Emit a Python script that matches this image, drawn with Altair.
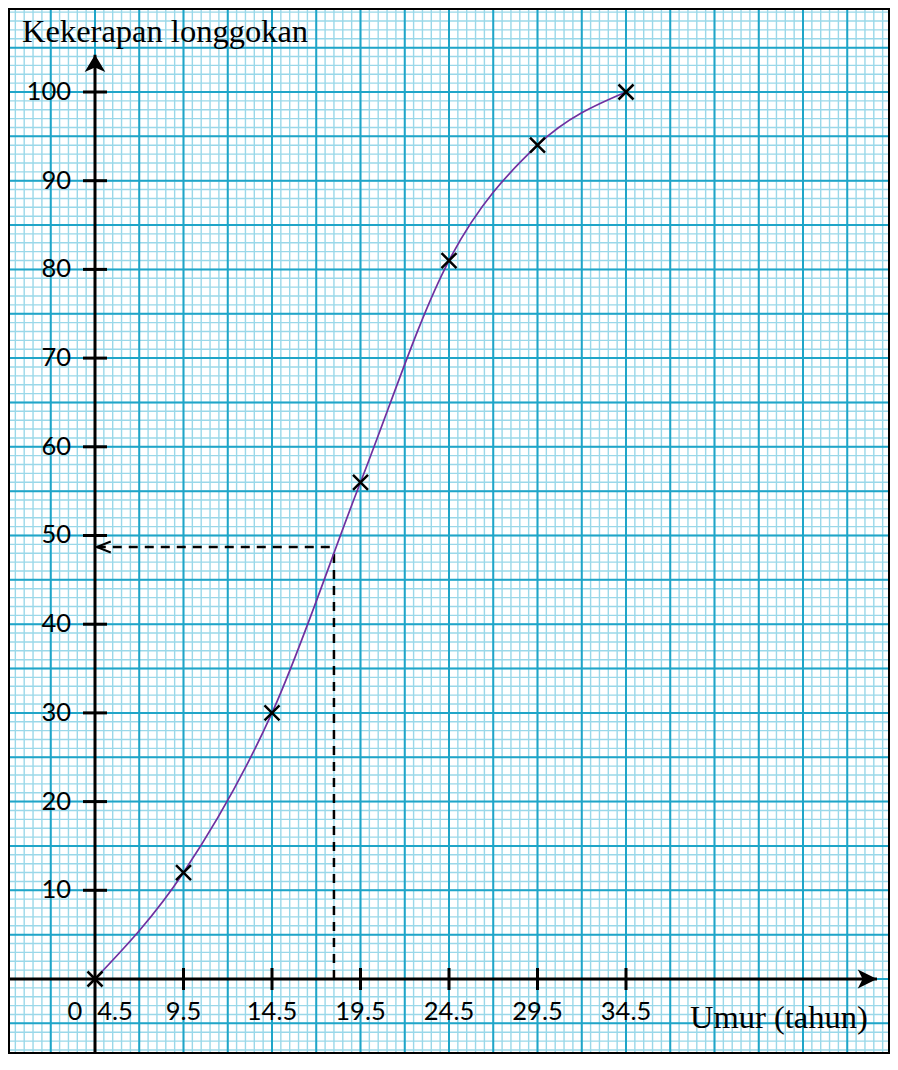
import altair as alt
import numpy as np
import pandas as pd

# ---- data ----
ages = [4.5, 9.5, 14.5, 19.5, 24.5, 29.5, 34.5]
cum_freq = [0, 12, 30, 56, 81, 94, 100]
x_tick_vals = [9.5, 14.5, 19.5, 24.5, 29.5, 34.5]
x_tick_labels = ["9.5", "14.5", "19.5", "24.5", "29.5", "34.5"]
y_tick_vals = [10, 20, 30, 40, 50, 60, 70, 80, 90, 100]
y_tick_labels = ["10", "20", "30", "40", "50", "60", "70", "80", "90", "100"]
origin_x = 4.5
median_age = 18.0
median_cf = 48.7
x_title = "Umur (tahun)"
y_title = "Kekerapan longgokan"

# ---- layout ----
W, H = 882, 1046
X0, X1 = -0.415, 49.415
Y0, Y1 = -8.456, 109.47
x_arrow_tip = 48.68
y_arrow_tip = 104.2

xs = alt.Scale(domain=[X0, X1], nice=False, zero=False)
ys = alt.Scale(domain=[Y0, Y1], nice=False, zero=False)

minor_x = list(np.arange(-0.5, 50.0, 0.5))
major_x = list(np.arange(-0.5, 50.0, 2.5))
minor_y = list(np.arange(-9, 110, 1))
major_y = list(np.arange(-5, 110, 5))

MINOR = "#9ad8e9"
MAJOR = "#1fa5c8"
FONT = "Lato"
SERIF = "Liberation Serif"


def vrules(vals, color, w):
    return alt.Chart(pd.DataFrame({"x": vals})).mark_rule(
        color=color, strokeWidth=w, clip=True
    ).encode(x=alt.X("x:Q", scale=xs, axis=None))


def hrules(vals, color, w):
    return alt.Chart(pd.DataFrame({"y": vals})).mark_rule(
        color=color, strokeWidth=w, clip=True
    ).encode(y=alt.Y("y:Q", scale=ys, axis=None))


grid = [
    vrules(minor_x, MINOR, 1.4),
    hrules(minor_y, MINOR, 1.4),
    vrules(major_x, MAJOR, 2),
    hrules(major_y, MAJOR, 2),
]

# outer frame (drawn on top of the grid)
frame_v = alt.Chart(pd.DataFrame({"x": [X0, X1]})).mark_rule(color="black", strokeWidth=4).encode(
    x=alt.X("x:Q", scale=xs, axis=None)
)
frame_h = alt.Chart(pd.DataFrame({"y": [Y0, Y1]})).mark_rule(color="black", strokeWidth=4).encode(
    y=alt.Y("y:Q", scale=ys, axis=None)
)

# axes lines
xaxis = alt.Chart(pd.DataFrame({"x": [X0], "x2": [x_arrow_tip], "y": [0]})).mark_rule(
    color="black", strokeWidth=3
).encode(x=alt.X("x:Q", scale=xs, axis=None), x2="x2:Q", y=alt.Y("y:Q", scale=ys, axis=None))

yaxis = alt.Chart(pd.DataFrame({"x": [origin_x], "y": [Y0], "y2": [y_arrow_tip]})).mark_rule(
    color="black", strokeWidth=3
).encode(x=alt.X("x:Q", scale=xs, axis=None), y=alt.Y("y:Q", scale=ys, axis=None), y2="y2:Q")

up_arrow = alt.Chart(pd.DataFrame({"x": [origin_x], "y": [y_arrow_tip]})).mark_point(
    shape="M0,0 L0.9,1.5 L0,1.1 L-0.9,1.5 Z", size=529, filled=True, color="black", opacity=1
).encode(x=alt.X("x:Q", scale=xs, axis=None), y=alt.Y("y:Q", scale=ys, axis=None))

right_arrow = alt.Chart(pd.DataFrame({"x": [x_arrow_tip], "y": [0]})).mark_point(
    shape="M0,0 L-1.6,-0.8 L-1.2,0 L-1.6,0.8 Z", size=576, filled=True, color="black", opacity=1
).encode(x=alt.X("x:Q", scale=xs, axis=None), y=alt.Y("y:Q", scale=ys, axis=None))

# ticks
yt = pd.DataFrame({"x": [origin_x] * len(y_tick_vals), "y": y_tick_vals, "label": y_tick_labels})
xt = pd.DataFrame({"x": x_tick_vals, "y": [0] * len(x_tick_vals), "label": x_tick_labels})

yticks = alt.Chart(yt).mark_tick(orient="horizontal", size=24, thickness=3, color="black", opacity=1).encode(
    x=alt.X("x:Q", scale=xs, axis=None), y=alt.Y("y:Q", scale=ys, axis=None)
)
xticks = alt.Chart(xt).mark_tick(orient="vertical", size=22, thickness=3, color="black", opacity=1).encode(
    x=alt.X("x:Q", scale=xs, axis=None), y=alt.Y("y:Q", scale=ys, axis=None)
)

ylabels = alt.Chart(yt).mark_text(
    align="right", baseline="middle", dx=-24, font=FONT, fontSize=25.5, color="black"
).encode(x=alt.X("x:Q", scale=xs, axis=None), y=alt.Y("y:Q", scale=ys, axis=None), text="label:N")

xlabels = alt.Chart(xt).mark_text(
    align="center", baseline="middle", dy=33, font=FONT, fontSize=25.5, color="black"
).encode(x=alt.X("x:Q", scale=xs, axis=None), y=alt.Y("y:Q", scale=ys, axis=None), text="label:N")

org = pd.DataFrame({"x": [origin_x], "y": [0], "zero": ["0"], "first": ["4.5"]})
zero_label = alt.Chart(org).mark_text(
    align="center", baseline="middle", dx=-20, dy=33, font=FONT, fontSize=25.5, color="black"
).encode(x=alt.X("x:Q", scale=xs, axis=None), y=alt.Y("y:Q", scale=ys, axis=None), text="zero:N")
first_label = alt.Chart(org).mark_text(
    align="center", baseline="middle", dx=20, dy=33, font=FONT, fontSize=25.5, color="black"
).encode(x=alt.X("x:Q", scale=xs, axis=None), y=alt.Y("y:Q", scale=ys, axis=None), text="first:N")

# titles
ytitle = alt.Chart(pd.DataFrame({"x": [origin_x], "y": [100], "t": [y_title]})).mark_text(
    align="left", baseline="alphabetic", dx=-73, dy=-50, font=SERIF, fontSize=32.5, color="black"
).encode(x=alt.X("x:Q", scale=xs, axis=None), y=alt.Y("y:Q", scale=ys, axis=None), text="t:N")

xtitle = alt.Chart(pd.DataFrame({"x": [34.5], "y": [0], "t": [x_title]})).mark_text(
    align="left", baseline="alphabetic", dx=64, dy=49, font=SERIF, fontSize=32.5, color="black"
).encode(x=alt.X("x:Q", scale=xs, axis=None), y=alt.Y("y:Q", scale=ys, axis=None), text="t:N")

# ogive
pts = pd.DataFrame({"age": ages, "cf": cum_freq})
curve = alt.Chart(pts).mark_line(interpolate="monotone", color="#7030A0", strokeWidth=1.7).encode(
    x=alt.X("age:Q", scale=xs, axis=None), y=alt.Y("cf:Q", scale=ys, axis=None)
)
crosses = alt.Chart(pts).mark_point(
    shape="M-1,-1L1,1M1,-1L-1,1", size=225, filled=False, color="black", strokeWidth=2.5, opacity=1
).encode(x=alt.X("age:Q", scale=xs, axis=None), y=alt.Y("cf:Q", scale=ys, axis=None))

# median construction lines
vdash = alt.Chart(pd.DataFrame({"x": [median_age], "y": [0], "y2": [median_cf]})).mark_rule(
    color="black", strokeWidth=2.5, strokeDash=[9, 7]
).encode(x=alt.X("x:Q", scale=xs, axis=None), y=alt.Y("y:Q", scale=ys, axis=None), y2="y2:Q")
hdash = alt.Chart(pd.DataFrame({"x": [origin_x + 0.1], "x2": [median_age], "y": [median_cf]})).mark_rule(
    color="black", strokeWidth=2.5, strokeDash=[9, 7]
).encode(x=alt.X("x:Q", scale=xs, axis=None), x2="x2:Q", y=alt.Y("y:Q", scale=ys, axis=None))
left_arrow = alt.Chart(pd.DataFrame({"x": [origin_x + 0.1], "y": [median_cf]})).mark_point(
    shape="M1.4,-0.55 L0,0 L1.4,0.55", size=400, filled=False, color="black", strokeWidth=2, opacity=1
).encode(x=alt.X("x:Q", scale=xs, axis=None), y=alt.Y("y:Q", scale=ys, axis=None))

chart = alt.layer(
    *grid,
    frame_v, frame_h,
    vdash, hdash, left_arrow,
    curve,
    xaxis, yaxis, up_arrow, right_arrow,
    xticks, yticks,
    crosses,
    ylabels, xlabels, zero_label, first_label,
    ytitle, xtitle,
).properties(
    width=W, height=H, padding=0, autosize=alt.AutoSizeParams(type="none"), background="white"
).configure_view(stroke="black", strokeWidth=3)

chart.save("out.html", embed_options={"renderer": "svg", "actions": False})
